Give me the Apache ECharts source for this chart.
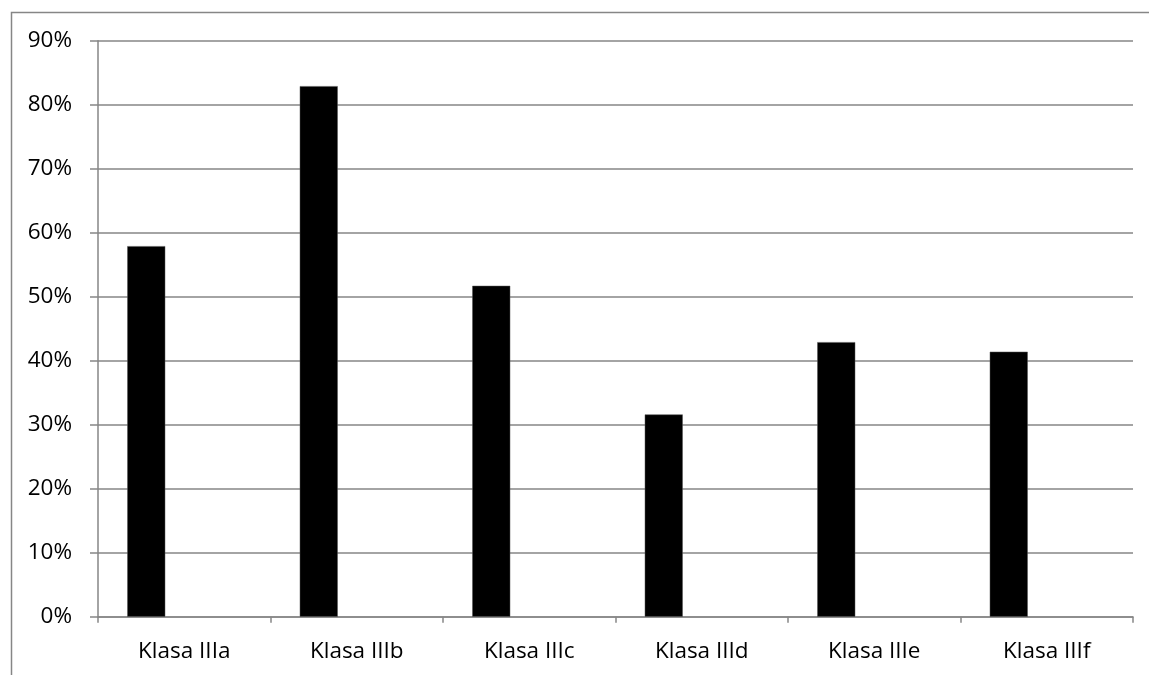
<!DOCTYPE html>
<html>
<head>
<meta charset="utf-8">
<script src="https://cdn.jsdelivr.net/npm/echarts@6/dist/echarts.min.js"></script>
<style>
html,body{margin:0;padding:0;background:#fff;}
#chart{width:1149px;height:675px;}
</style>
</head>
<body>
<div id="chart"></div>
<script>
var categories = ['Klasa IIIa', 'Klasa IIIb', 'Klasa IIIc', 'Klasa IIId', 'Klasa IIIe', 'Klasa IIIf'];
var values = [57.9, 82.9, 51.7, 31.6, 42.9, 41.4];
var emptySeries = [null, null, null, null, null, null];
var yTicks = { min: 0, max: 90, interval: 10 };

var chart = echarts.init(document.getElementById('chart'), null, { renderer: 'canvas' });
var gray = '#868686';
var font = 'Open Sans';
chart.setOption({
  animation: false,
  backgroundColor: '#ffffff',
  graphic: [{
    type: 'polyline',
    shape: { points: [[11.5, 700], [11.5, 12.5], [1160, 12.5]] },
    style: { fill: 'none', stroke: gray, lineWidth: 1.5 },
    silent: true,
    z: -1
  }],
  grid: { left: 98, right: 16, top: 40.7, bottom: 58.3, containLabel: false },
  xAxis: {
    type: 'category',
    data: categories,
    boundaryGap: true,
    axisLine: { show: true, lineStyle: { color: gray, width: 1.5 } },
    axisTick: { show: true, length: 6, alignWithLabel: false, lineStyle: { color: gray, width: 1.5 } },
    axisLabel: { color: '#000', fontFamily: font, fontSize: 22.5, margin: 23, interval: 0 },
    splitLine: { show: false }
  },
  yAxis: {
    type: 'value',
    min: yTicks.min,
    max: yTicks.max,
    interval: yTicks.interval,
    axisLine: { show: true, lineStyle: { color: gray, width: 1.5 } },
    axisTick: { show: true, inside: false, length: 8, lineStyle: { color: gray, width: 1.5 } },
    axisLabel: { color: '#000', fontFamily: font, fontSize: 22.5, margin: 26, formatter: '{value}%' },
    splitLine: { show: true, lineStyle: { color: gray, width: 1.5 } }
  },
  series: [
    { type: 'bar', data: values, barWidth: 38, barGap: '0%', itemStyle: { color: '#000', borderColor: '#555', borderWidth: 0.5 } },
    { type: 'bar', data: emptySeries, barWidth: 38, barGap: '0%' },
    { type: 'bar', data: emptySeries, barWidth: 38, barGap: '0%' }
  ]
});
</script>
</body>
</html>
